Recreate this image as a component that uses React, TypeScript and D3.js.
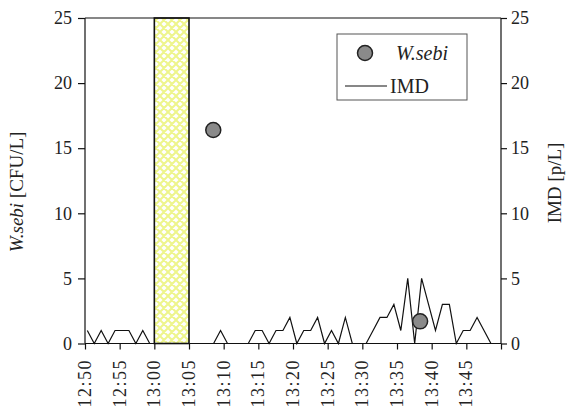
import React, { useEffect, useRef } from "react";
import * as d3 from "d3";

// IMD counts, before the sampling window (1-min readings)
const imdTimesA = ["12:50:20", "12:51:20", "12:52:20", "12:53:20", "12:54:20", "12:55:20",
  "12:56:20", "12:57:20", "12:58:20", "12:59:20", "13:00:20"];
const imdValuesA = [1, 0, 1, 0, 1, 1, 1, 0, 1, 0, 0];

// IMD counts after the sampling window
const imdTimesB = ["13:05:33", "13:06:33", "13:07:33", "13:08:33", "13:09:33", "13:10:33",
  "13:11:33", "13:12:33", "13:13:33", "13:14:33", "13:15:33", "13:16:33", "13:17:33",
  "13:18:33", "13:19:33", "13:20:33", "13:21:33", "13:22:33", "13:23:33", "13:24:33",
  "13:25:33", "13:26:33", "13:27:33", "13:28:33", "13:29:33", "13:30:33", "13:31:33",
  "13:32:33", "13:33:33", "13:34:33", "13:35:33", "13:36:33", "13:37:33", "13:38:33",
  "13:39:33", "13:40:33", "13:41:33", "13:42:33", "13:43:33", "13:44:33", "13:45:33",
  "13:46:33", "13:47:33", "13:48:33"];
const imdValuesB = [0, 0, 0, 0, 1, 0, 0, 0, 0, 1, 1, 0, 1, 1, 2, 0, 1, 1, 2, 0, 1, 0, 2, 0,
  0, 0, 1, 2, 2, 3, 1, 5, 0, 5, 3, 1, 3, 3, 0, 1, 1, 2, 1, 0];

// W.sebi samples
const sebiTimes = ["13:08:30", "13:38:20"];
const sebiValues = [16.4, 1.7];

// air sampling window (shaded bar)
const sampleStart = "13:00:00";
const sampleEnd = "13:05:00";

const xTickLabels = ["12:50", "12:55", "13:00", "13:05", "13:10", "13:15", "13:20",
  "13:25", "13:30", "13:35", "13:40", "13:45"];
const yTicks = [0, 5, 10, 15, 20, 25];

const parse = d3.timeParse("%H:%M:%S");
const FONT = "'Liberation Serif', 'Times New Roman', serif";

export default function App() {
  const ref = useRef<SVGSVGElement>(null);

  useEffect(() => {
    const svg = d3.select(ref.current);
    svg.selectAll("*").remove();

    const margin = { left: 85, right: 69, top: 18, bottom: 69.5 };
    const width = 570, height = 413;

    const x = d3.scaleTime()
      .domain([parse("12:50:00")!, parse("13:50:00")!])
      .range([margin.left, width - margin.right]);
    const y = d3.scaleLinear()
      .domain([0, 25])
      .range([height - margin.bottom, margin.top]);

    // hatch pattern for the sampling bar
    const defs = svg.append("defs");
    const pat = defs.append("pattern")
      .attr("id", "hatch")
      .attr("patternUnits", "userSpaceOnUse")
      .attr("width", 8).attr("height", 8);
    pat.append("rect").attr("width", 8).attr("height", 8).attr("fill", "#fff");
    pat.append("path")
      .attr("d", "M-1,1 L1,-1 M0,8 L8,0 M7,9 L9,7 M-1,7 L1,9 M0,0 L8,8 M7,-1 L9,1")
      .attr("stroke", "#eef58c")
      .attr("stroke-width", 2);

    const x0 = x(parse(sampleStart)!), x1 = x(parse(sampleEnd)!);
    svg.append("rect")
      .attr("x", x0).attr("y", y(25))
      .attr("width", x1 - x0).attr("height", y(0) - y(25))
      .attr("fill", "url(#hatch)")
      .attr("stroke", "#111").attr("stroke-width", 1.6);

    // IMD line (two segments)
    const line = d3.line<[Date, number]>()
      .x(d => x(d[0]))
      .y(d => y(d[1]));
    [[imdTimesA, imdValuesA], [imdTimesB, imdValuesB]].forEach(([ts, vs]) => {
      const pts = (ts as string[]).map((t, i) => [parse(t)!, (vs as number[])[i]] as [Date, number]);
      svg.append("path")
        .attr("d", line(pts))
        .attr("fill", "none")
        .attr("stroke", "#111")
        .attr("stroke-width", 1.2)
        .attr("stroke-linejoin", "miter");
    });

    // axes
    const xAxis = svg.append("g")
      .attr("transform", `translate(0,${y(0)})`)
      .call(d3.axisBottom(x)
        .tickValues(d3.timeMinute.every(5)!.range(parse("12:50:00")!, parse("13:50:01")!))
        .tickSize(6)
        .tickFormat(() => ""));
    xAxis.select(".domain").attr("d", `M${x.range()[0]},0H${x.range()[1]}`);

    const labelG = svg.append("g");
    xTickLabels.forEach(l => {
      const px = x(parse(l + ":00")!);
      labelG.append("text")
        .attr("transform", `translate(${px + 6},359) rotate(-90)`)
        .attr("text-anchor", "end")
        .attr("font-family", FONT)
        .attr("font-size", 18)
        .attr("letter-spacing", 1.5)
        .attr("fill", "#222")
        .text(l);
    });

    const yLeft = svg.append("g")
      .attr("transform", `translate(${margin.left},0)`)
      .call(d3.axisLeft(y).tickValues(yTicks).tickSize(7).tickPadding(6));
    const yRight = svg.append("g")
      .attr("transform", `translate(${width - margin.right},0)`)
      .call(d3.axisRight(y).tickValues(yTicks).tickSize(6).tickPadding(4));
    [xAxis, yLeft, yRight].forEach(g => {
      g.selectAll("path, line").attr("stroke", "#111").attr("stroke-width", 1.2);
      g.selectAll("text")
        .attr("font-family", FONT)
        .attr("font-size", 18)
        .attr("fill", "#222");
    });
    yLeft.select(".domain").attr("d", `M0,${y(0)}V${y(25)}`);
    yRight.select(".domain").attr("d", `M0,${y(0)}V${y(25)}`);

    // top frame line
    svg.append("line")
      .attr("x1", margin.left).attr("x2", width - margin.right)
      .attr("y1", y(25)).attr("y2", y(25))
      .attr("stroke", "#111").attr("stroke-width", 1.2);

    // W.sebi points
    svg.selectAll("circle.sebi")
      .data(sebiTimes)
      .enter()
      .append("circle")
      .attr("class", "sebi")
      .attr("cx", d => x(parse(d)!))
      .attr("cy", (_, i) => y(sebiValues[i]))
      .attr("r", 7.5)
      .attr("fill", "#8a8a8a")
      .attr("stroke", "#222")
      .attr("stroke-width", 1.5);

    // axis titles
    const lt = svg.append("text")
      .attr("transform", `translate(23,192) rotate(-90)`)
      .attr("text-anchor", "middle")
      .attr("font-family", FONT)
      .attr("font-size", 19)
      .attr("fill", "#222");
    lt.append("tspan").attr("font-style", "italic").text("W.sebi");
    lt.append("tspan").text(" [CFU/L]");

    svg.append("text")
      .attr("transform", `translate(561,183) rotate(-90)`)
      .attr("text-anchor", "middle")
      .attr("font-family", FONT)
      .attr("font-size", 19)
      .attr("fill", "#222")
      .text("IMD [p/L]");

    // legend
    const lg = svg.append("g");
    lg.append("rect")
      .attr("x", 337).attr("y", 34).attr("width", 130).attr("height", 66)
      .attr("fill", "#fff").attr("stroke", "#555").attr("stroke-width", 1);
    lg.append("circle")
      .attr("cx", 365).attr("cy", 53).attr("r", 7.5)
      .attr("fill", "#8a8a8a").attr("stroke", "#222").attr("stroke-width", 1.5);
    lg.append("text")
      .attr("x", 396).attr("y", 60)
      .attr("font-family", FONT).attr("font-size", 20).attr("font-style", "italic")
      .attr("fill", "#222")
      .text("W.sebi");
    lg.append("line")
      .attr("x1", 345).attr("x2", 387).attr("y1", 86).attr("y2", 86)
      .attr("stroke", "#111").attr("stroke-width", 1.2);
    lg.append("text")
      .attr("x", 390).attr("y", 93)
      .attr("font-family", FONT).attr("font-size", 20)
      .attr("fill", "#222")
      .text("IMD");
  }, []);

  return (
    <svg
      ref={ref}
      width={570}
      height={413}
      style={{ position: "absolute", left: 0, top: 0, background: "#fff" }}
    />
  );
}
